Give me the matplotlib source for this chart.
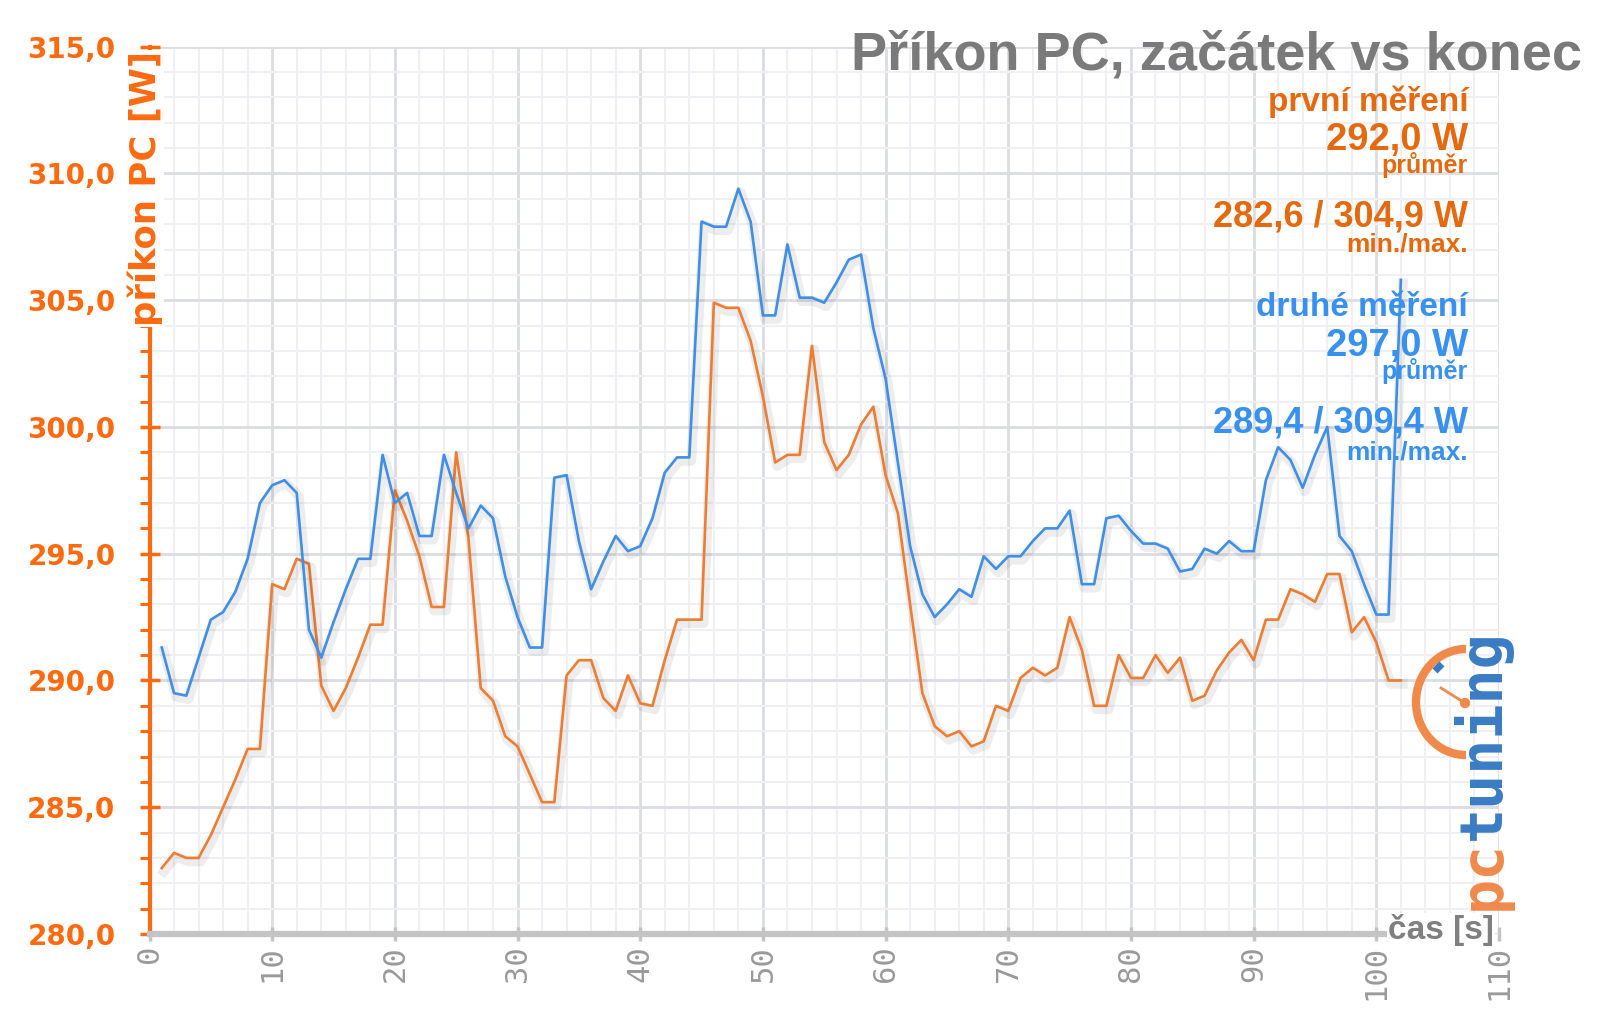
import matplotlib
matplotlib.use('Agg')
import matplotlib.pyplot as plt
import matplotlib.patheffects as pe
from matplotlib.patches import Arc, Circle
from matplotlib.ticker import MultipleLocator, FuncFormatter


time_s = list(range(1, 103))

# first run (orange), W
first_run = [
  282.6, 283.2, 283.0, 283.0, 283.9, 285.0, 286.1, 287.3, 287.3, 293.8,
  293.6, 294.8, 294.6, 289.8, 288.8, 289.7, 290.9, 292.2, 292.2, 297.5,
  296.3, 294.9, 292.9, 292.9, 299.0, 295.6, 289.7, 289.2, 287.8, 287.4,
  286.3, 285.2, 285.2, 290.2, 290.8, 290.8, 289.3, 288.8, 290.2, 289.1,
  289.0, 290.8, 292.4, 292.4, 292.4, 304.9, 304.7, 304.7, 303.4, 301.2,
  298.6, 298.9, 298.9, 303.2, 299.4, 298.3, 298.9, 300.1, 300.8, 298.1,
  296.6, 293.0, 289.5, 288.2, 287.8, 288.0, 287.4, 287.6, 289.0, 288.8,
  290.1, 290.5, 290.2, 290.5, 292.5, 291.2, 289.0, 289.0, 291.0, 290.1,
  290.1, 291.0, 290.3, 290.9, 289.2, 289.4, 290.4, 291.1, 291.6, 290.8,
  292.4, 292.4, 293.6, 293.4, 293.1, 294.2, 294.2, 291.9, 292.5, 291.5,
  290.0, 290.0,
]

# second run (blue), W
second_run = [
  291.3, 289.5, 289.4, 290.9, 292.4, 292.7, 293.5, 294.8, 297.0, 297.7,
  297.9, 297.4, 292.0, 290.9, 292.3, 293.6, 294.8, 294.8, 298.9, 297.0,
  297.4, 295.7, 295.7, 298.9, 297.4, 296.0, 296.9, 296.4, 294.1, 292.5,
  291.3, 291.3, 298.0, 298.1, 295.5, 293.6, 294.7, 295.7, 295.1, 295.3,
  296.4, 298.2, 298.8, 298.8, 308.1, 307.9, 307.9, 309.4, 308.1, 304.4,
  304.4, 307.2, 305.1, 305.1, 304.9, 305.7, 306.6, 306.8, 303.9, 301.9,
  298.6, 295.3, 293.4, 292.5, 293.0, 293.6, 293.3, 294.9, 294.4, 294.9,
  294.9, 295.5, 296.0, 296.0, 296.7, 293.8, 293.8, 296.4, 296.5, 295.9,
  295.4, 295.4, 295.2, 294.3, 294.4, 295.2, 295.0, 295.5, 295.1, 295.1,
  297.9, 299.2, 298.7, 297.6, 298.9, 300.0, 295.7, 295.1, 293.8, 292.6,
  292.6, 305.8,
]

title = 'Příkon PC, začátek vs konec'
ylabel = 'příkon PC [W]'
xlabel = 'čas [s]'
first_label = ['první měření', '292,0 W', 'průměr', '282,6 / 304,9 W', 'min./max.']
second_label = ['druhé měření', '297,0 W', 'průměr', '289,4 / 309,4 W', 'min./max.']

ORANGE_LINE = '#ed7d31'
BLUE_LINE = '#3f8fe6'
ORANGE_TXT = '#e4690f'
BLUE_TXT = '#3891ee'
AXIS_ORANGE = '#ff6a10'
LOGO_ORANGE = '#f08a4b'
LOGO_BLUE = '#3a7cc4'

W, H = 1600, 1017
fig = plt.figure(figsize=(W / 100, H / 100), dpi=100)
fig.patch.set_facecolor('white')

x0, x1 = 149.5, 1499.0
y_top, y_bot = 46.7, 934.0
ax = fig.add_axes([x0 / W, 1 - y_bot / H, (x1 - x0) / W, (y_bot - y_top) / H])

shadow = [pe.SimpleLineShadow(offset=(1.5, -2.5), shadow_color='black', alpha=0.07, linewidth=7), pe.Normal()]
ax.plot(time_s, first_run, color=ORANGE_LINE, lw=1.9, path_effects=shadow, zorder=3)
ax.plot(time_s, second_run, color=BLUE_LINE, lw=1.9, path_effects=shadow, zorder=4)

ax.set_xlim(0, 110)
ax.set_ylim(280, 315)
ax.xaxis.set_major_locator(MultipleLocator(10))
ax.xaxis.set_minor_locator(MultipleLocator(2))
ax.yaxis.set_major_locator(MultipleLocator(5))
ax.yaxis.set_minor_locator(MultipleLocator(1))
ax.yaxis.set_major_formatter(FuncFormatter(lambda v, p: f'{v:.1f}'.replace('.', ',')))

ax.grid(which='major', color='#dcdce3', lw=2.0, zorder=0)
ax.grid(which='minor', color='#f0f0f4', lw=1.5, zorder=0)
ax.set_axisbelow(True)

for s in ('top', 'right'):
  ax.spines[s].set_visible(False)
ax.spines['left'].set_color(AXIS_ORANGE)
ax.spines['left'].set_linewidth(3)
ax.spines['bottom'].set_color('#c4c4c4')
ax.spines['bottom'].set_linewidth(4.5)
ax.spines['bottom'].set_bounds(0, 101)

ax.tick_params(axis='y', which='major', direction='inout', length=15, width=2.5,
               color=AXIS_ORANGE, pad=17, labelcolor=AXIS_ORANGE, labelsize=20)
ax.tick_params(axis='y', which='minor', direction='out', length=7.5, width=2.2, color=AXIS_ORANGE)
ax.tick_params(axis='x', which='major', direction='inout', length=10, width=2.5,
               color='#c4c4c4', pad=3, labelcolor='#9a9a9a', labelsize=22, labelrotation=90)
ax.tick_params(axis='x', which='minor', length=0)
for lab in ax.get_yticklabels():
  lab.set_fontweight('bold')
  lab.set_family('DejaVu Sans')
for lab in ax.get_xticklabels():
  lab.set_family('DejaVu Sans Mono')

# overlay in pixel coordinates for texts and logo
ov = fig.add_axes([0, 0, 1, 1])
ov.set_xlim(0, W)
ov.set_ylim(H, 0)
ov.axis('off')
ov.patch.set_visible(False)

ov.text(1582, 69, title, ha='right', va='baseline', fontsize=39, fontweight='bold',
        color='#7a7a7a', family='Liberation Sans')

ov.text(145, 51, ylabel, rotation=90, ha='center', va='top', fontsize=25.5,
        fontweight='bold', color=AXIS_ORANGE, family='DejaVu Sans',
        bbox=dict(fc='white', ec='none', pad=1))
ov.text(1494, 930, xlabel, ha='right', va='center', fontsize=24, fontweight='bold',
        color='#808080', family='Liberation Sans', bbox=dict(fc='white', ec='none', pad=1))

sizes = [24, 27.5, 18, 26, 19]
first_base = [111, 150, 173, 226, 252]
second_base = [316, 356, 379, 432, 459]
for txt, size, yb in zip(first_label, sizes, first_base):
  ov.text(1468, yb, txt, ha='right', va='baseline', fontsize=size, fontweight='bold',
          color=ORANGE_TXT, family='Liberation Sans')
for txt, size, yb in zip(second_label, sizes, second_base):
  ov.text(1468, yb, txt, ha='right', va='baseline', fontsize=size, fontweight='bold',
          color=BLUE_TXT, family='Liberation Sans')

# pctuning logo
ov.add_patch(Arc((1466, 702), 100, 106, theta1=90, theta2=270, lw=6, color=LOGO_ORANGE))
ov.plot([1465, 1441], [703, 688], color=LOGO_ORANGE, lw=2)
ov.add_patch(Circle((1465, 703), 4.5, color=LOGO_ORANGE))
ov.plot([1435, 1442], [671, 664], color=LOGO_BLUE, lw=5, solid_capstyle='butt')
logo_size = 42
pc_len = 2 * 0.602 * logo_size * 100 / 72
ov.text(1500, 910, 'pc', rotation=90, rotation_mode='anchor', ha='left', va='baseline',
        fontsize=logo_size, fontweight='bold', color=LOGO_ORANGE, family='DejaVu Sans Mono')
ov.text(1500, 910 - pc_len, 'tuning', rotation=90, rotation_mode='anchor', ha='left',
        va='baseline', fontsize=logo_size, fontweight='bold', color=LOGO_BLUE,
        family='DejaVu Sans Mono')

fig.savefig('out.png', dpi=100, facecolor='white')
